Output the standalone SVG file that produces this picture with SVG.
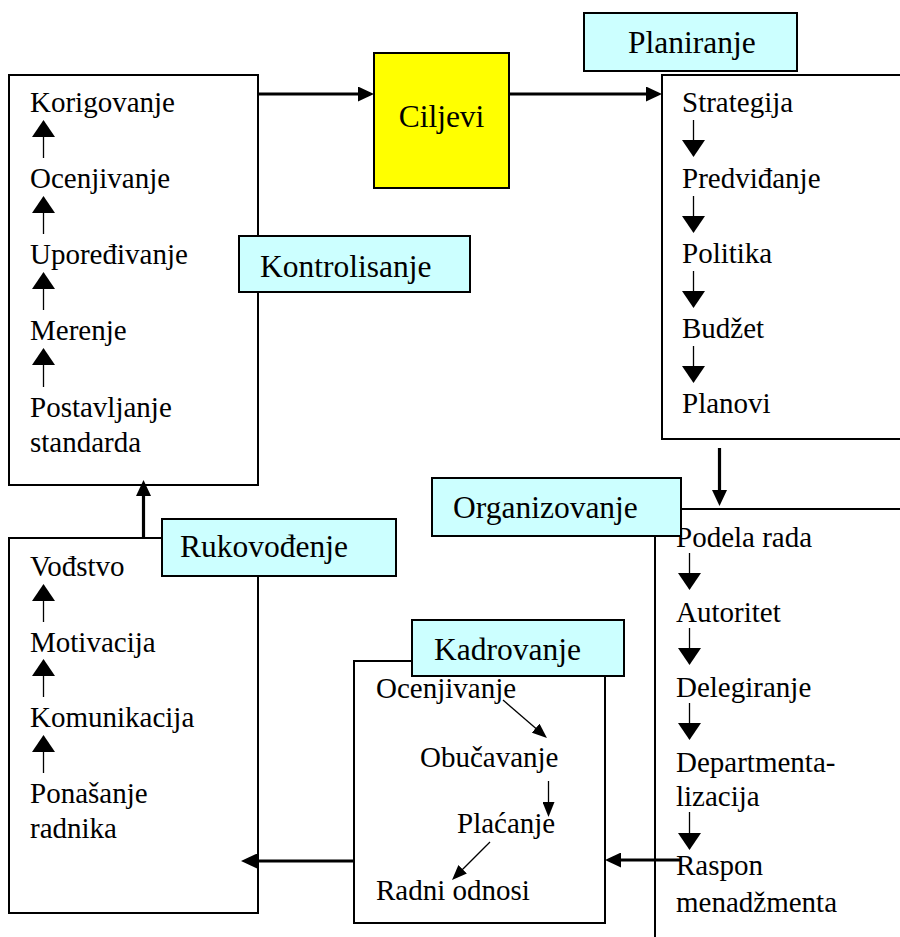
<svg xmlns="http://www.w3.org/2000/svg" width="900" height="937" viewBox="0 0 900 937">
<style>
  .box { fill: #ffffff; stroke: #000000; stroke-width: 2; }
  .lbl { fill: #ccffff; stroke: #000000; stroke-width: 2; }
  .goal { fill: #ffff00; stroke: #000000; stroke-width: 2; }
  text { font-family: 'Liberation Serif', 'Times New Roman', Times, serif; fill: #000000; }
  .item { font-size: 29px; }
  .title { font-size: 31.5px; }
  .thick { stroke: #000000; stroke-width: 3.2; fill: none; marker-end: url(#hThick); }
  .thin { stroke: #000000; stroke-width: 1.3; fill: none; marker-end: url(#hThin); }
  .small { stroke: #000000; stroke-width: 1.3; fill: none; marker-end: url(#hSmall); }
</style>
<defs>
  <marker id="hThick" viewBox="0 0 16 15" refX="6" refY="7.5" markerWidth="16" markerHeight="15" markerUnits="userSpaceOnUse" orient="auto">
    <path d="M0,0 L16,7.5 L0,15 z" fill="#000000"/>
  </marker>
  <marker id="hThin" viewBox="0 0 17 23" refX="8" refY="11.5" markerWidth="17" markerHeight="23" markerUnits="userSpaceOnUse" orient="auto">
    <path d="M0,0 L17,11.5 L0,23 z" fill="#000000"/>
  </marker>
  <marker id="hSmall" viewBox="0 0 15 12" refX="7" refY="6" markerWidth="15" markerHeight="12" markerUnits="userSpaceOnUse" orient="auto">
    <path d="M0,0 L15,6 L0,12 z" fill="#000000"/>
  </marker>
</defs>
<rect x="0" y="0" width="900" height="937" fill="#ffffff"/>

<g id="kontrolisanje">
  <rect class="box" x="9" y="75" width="249" height="410"/>
  <text class="item" x="30" y="112">Korigovanje</text>
  <text class="item" x="30" y="188">Ocenjivanje</text>
  <text class="item" x="30" y="264">Upoređivanje</text>
  <text class="item" x="30" y="340">Merenje</text>
  <text class="item" x="30" y="417">Postavljanje</text>
  <text class="item" x="30" y="452">standarda</text>
  <line class="thin" x1="43.5" y1="158" x2="43.5" y2="129"/>
  <line class="thin" x1="43.5" y1="234" x2="43.5" y2="205"/>
  <line class="thin" x1="43.5" y1="310" x2="43.5" y2="281"/>
  <line class="thin" x1="43.5" y1="387" x2="43.5" y2="357"/>
</g>

<g id="ciljevi">
  <rect class="goal" x="374" y="53" width="135" height="135"/>
  <text class="title" x="441.5" y="127" text-anchor="middle">Ciljevi</text>
</g>

<g id="planiranje">
  <rect class="box" x="662" y="75" width="250" height="364"/>
  <text class="item" x="682" y="112">Strategija</text>
  <text class="item" x="682" y="188">Predviđanje</text>
  <text class="item" x="682" y="263">Politika</text>
  <text class="item" x="682" y="338">Budžet</text>
  <text class="item" x="682" y="413">Planovi</text>
  <line class="thin" x1="693.5" y1="120" x2="693.5" y2="148"/>
  <line class="thin" x1="693.5" y1="196" x2="693.5" y2="224"/>
  <line class="thin" x1="693.5" y1="271" x2="693.5" y2="299"/>
  <line class="thin" x1="693.5" y1="346" x2="693.5" y2="374"/>
</g>

<g id="organizovanje">
  <rect class="box" x="655" y="509" width="260" height="440"/>
  <text class="item" x="676" y="547">Podela rada</text>
  <text class="item" x="676" y="622">Autoritet</text>
  <text class="item" x="676" y="697">Delegiranje</text>
  <text class="item" x="676" y="772">Departmenta-</text>
  <text class="item" x="676" y="806">lizacija</text>
  <text class="item" x="676" y="875">Raspon</text>
  <text class="item" x="676" y="912">menadžmenta</text>
  <line class="thin" x1="689.5" y1="553" x2="689.5" y2="581"/>
  <line class="thin" x1="689.5" y1="628" x2="689.5" y2="656"/>
  <line class="thin" x1="689.5" y1="703" x2="689.5" y2="731"/>
  <line class="thin" x1="689.5" y1="812" x2="689.5" y2="841"/>
</g>

<g id="kadrovanje">
  <rect class="box" x="354" y="661" width="251" height="262"/>
  <text class="item" x="376" y="698">Ocenjivanje</text>
  <text class="item" x="420" y="767">Obučavanje</text>
  <text class="item" x="457" y="833">Plaćanje</text>
  <text class="item" x="376" y="900">Radni odnosi</text>
  <line class="small" x1="503" y1="700" x2="540.9" y2="732.8"/>
  <line class="small" x1="548.5" y1="781" x2="548.5" y2="809"/>
  <line class="small" x1="490" y1="842" x2="457.7" y2="874.3"/>
</g>

<g id="rukovodjenje">
  <rect class="box" x="9" y="538" width="249" height="375"/>
  <text class="item" x="30" y="576">Vođstvo</text>
  <text class="item" x="30" y="652">Motivacija</text>
  <text class="item" x="30" y="727">Komunikacija</text>
  <text class="item" x="30" y="803">Ponašanje</text>
  <text class="item" x="30" y="838">radnika</text>
  <line class="thin" x1="43.5" y1="622" x2="43.5" y2="593"/>
  <line class="thin" x1="43.5" y1="697" x2="43.5" y2="668"/>
  <line class="thin" x1="43.5" y1="773" x2="43.5" y2="744"/>
</g>

<g id="connectors">
  <line class="thick" x1="258" y1="94" x2="364" y2="94"/>
  <line class="thick" x1="509" y1="94" x2="652" y2="94"/>
  <line class="thick" x1="719.5" y1="448" x2="719.5" y2="496"/>
  <line class="thick" x1="680" y1="860" x2="615" y2="860"/>
  <line class="thick" x1="354" y1="861" x2="251" y2="861"/>
  <line class="thick" x1="143.5" y1="538" x2="143.5" y2="490"/>
</g>

<g id="label-planiranje">
  <rect class="lbl" x="584" y="13" width="213" height="58"/>
  <text class="title" x="628" y="53">Planiranje</text>
</g>
<g id="label-kontrolisanje">
  <rect class="lbl" x="239" y="236" width="231" height="56"/>
  <text class="title" x="260" y="277">Kontrolisanje</text>
</g>
<g id="label-organizovanje">
  <rect class="lbl" x="432" y="478" width="249" height="58"/>
  <text class="title" x="453" y="518">Organizovanje</text>
</g>
<g id="label-rukovodjenje">
  <rect class="lbl" x="162" y="519" width="234" height="57"/>
  <text class="title" x="180" y="557">Rukovođenje</text>
</g>
<g id="label-kadrovanje">
  <rect class="lbl" x="412" y="620" width="212" height="56"/>
  <text class="title" x="434" y="660">Kadrovanje</text>
</g>
</svg>
